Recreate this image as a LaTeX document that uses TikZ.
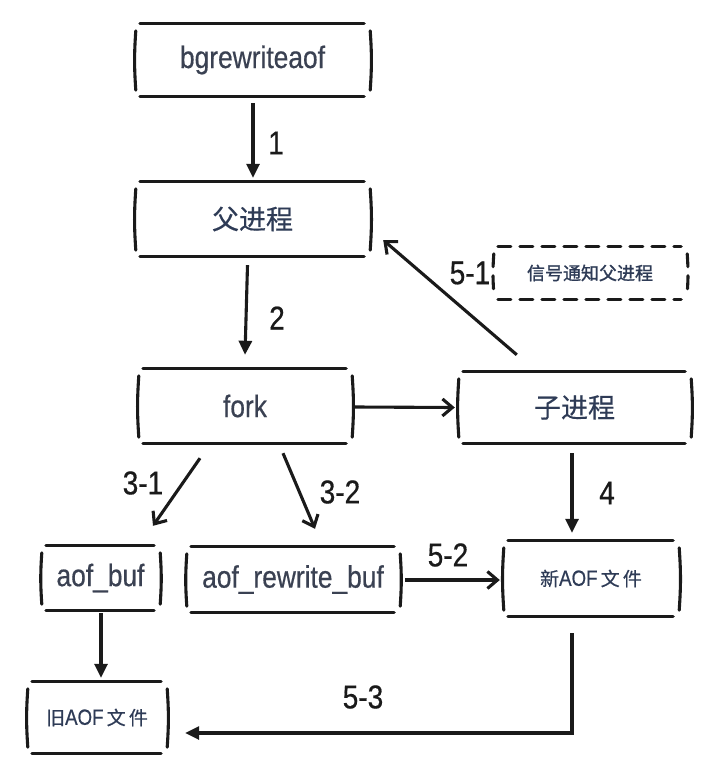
\documentclass[tikz,border=0pt]{standalone}
\usepackage{fontspec}
\setmainfont{Liberation Sans}
\newfontfamily\hand[FakeStretch=0.85,FakeBold=0.5]{Liberation Sans}
\newfontfamily\cjk[FakeBold=0.4]{Noto Sans CJK SC}
\newfontfamily\cjkb[FakeBold=1.2]{Noto Sans CJK SC}
\usetikzlibrary{arrows.meta,calc}
\definecolor{ink}{HTML}{1A1A1A}
\definecolor{txt}{HTML}{3A4152}
\definecolor{cn}{HTML}{2E3B56}
\tikzset{
  box/.style={draw=none, inner sep=0pt, text=txt},
  lat/.style={font=\hand\fontsize{31}{36}\selectfont},
  cnbig/.style={font=\cjk\fontsize{27}{30}\selectfont, text=cn},
  cnsmall/.style={font=\cjk\fontsize{19}{22}\selectfont, text=cn},
  cnbold/.style={font=\cjkb\fontsize{18}{22}\selectfont, text=cn},
  lab/.style={font=\hand\fontsize{33}{38}\selectfont, text=ink},
  edge/.style={line width=3.1pt, draw=ink},
  arrb/.style={edge, -{Straight Barb[length=10pt,width=17pt]}},
  arrf/.style={edge, -{Triangle[length=14pt,width=13pt]}},
  boxline/.style={line width=3.1pt, draw=ink, line cap=round},
}
\newcommand\skbox[2][]{%
  \draw[boxline,#1] ([xshift=3pt,yshift=1pt]#2.north west) -- ([xshift=-4pt,yshift=1pt]#2.north east);
  \draw[boxline,#1] ([xshift=3pt,yshift=-1pt]#2.south west) -- ([xshift=-4pt,yshift=-1pt]#2.south east);
  \draw[boxline,#1] ([xshift=-1pt,yshift=-6pt]#2.north west) to[bend right=4] ([xshift=-1pt,yshift=5pt]#2.south west);
  \draw[boxline,#1] ([xshift=2pt,yshift=-6pt]#2.north east) to[bend left=4] ([xshift=2pt,yshift=5pt]#2.south east);
}
\begin{document}
\begin{tikzpicture}[x=1pt,y=-1pt]
\useasboundingbox[fill=white] (0,0) rectangle (708,781);

% nodes
\node[box,lat,minimum width=231pt,minimum height=70pt] (bg) at (252.5,60) {bgrewriteaof};
\node[box,cnbig,minimum width=231pt,minimum height=72pt] (par) at (252.5,219) {父进程};
\node[box,lat,minimum width=210pt,minimum height=72pt] (fork) at (245,406) {fork};
\node[box,cnbig,minimum width=229pt,minimum height=69pt] (child) at (574.5,407.5) {子进程};
\node[box,cnbold,minimum width=190pt,minimum height=50pt] (sig) at (590,273) {信号通知父进程};
\node[box,lat,minimum width=115pt,minimum height=62pt] (abuf) at (100.5,578) {aof\_buf};
\node[box,lat,minimum width=210pt,minimum height=63pt] (rbuf) at (293,579.5) {aof\_rewrite\_buf};
\node[box,cnsmall,minimum width=172pt,minimum height=73pt] (new) at (591,578.5) {新{\hand\fontsize{22}{24}\selectfont AOF}\,文\,件};
\node[box,cnsmall,minimum width=136pt,minimum height=69pt] (old) at (97,717.5) {旧{\hand\fontsize{22}{24}\selectfont AOF}\,文\,件};

% outlines
\skbox{bg}
\skbox{par}
\skbox{fork}
\skbox{child}
\skbox{abuf}
\skbox{rbuf}
\skbox{new}
\skbox{old}
\skbox[dash pattern=on 13pt off 9pt]{sig}

% connectors
\draw[arrf] ($(bg.south)+(0.5,8)$) -- ($(par.north)+(0.5,-5)$);
\draw[arrf] ($(par.south)+(-5,10)$) -- ($(fork.north)+(0,-15)$);
\draw[arrb] ($(fork.east)+(5,1)$) -- ($(child.west)+(-5,0)$);
\draw[arrb] ($(child.north west)+(57,-18)$) -- ($(par.east)+(15,21)$);
\draw[arrb] ($(fork.south)+(-45,16)$) -- ($(abuf.north)+(52.5,-21)$);
\draw[arrb] ($(fork.south)+(38,11)$) -- ($(rbuf.north)+(22,-19)$);
\draw[arrf] ($(child.south)+(-2.5,11)$) -- ($(new.north)+(-19,-9)$);
\draw[arrb] ($(rbuf.east)+(7,0.5)$) -- ($(new.west)+(-5,1.5)$);
\draw[arrf] ($(abuf.south)+(0.5,4)$) -- ($(old.north)+(4,-5)$);
\draw[arrf] ($(new.south)+(-19,18)$) |- ($(old.east)+(20,15.5)$);

% labels
\node[lab] (l1) at (276,143) {1};
\node[lab] (l2) at (277,318) {2};
\node[lab] (l51) at (470,273) {5-1};
\node[lab] (l31) at (143,483) {3-1};
\node[lab] (l32) at (340,492) {3-2};
\node[lab] (l4) at (607,493) {4};
\node[lab] (l52) at (448,555) {5-2};
\node[lab] (l53) at (363,697) {5-3};
\end{tikzpicture}
\end{document}
